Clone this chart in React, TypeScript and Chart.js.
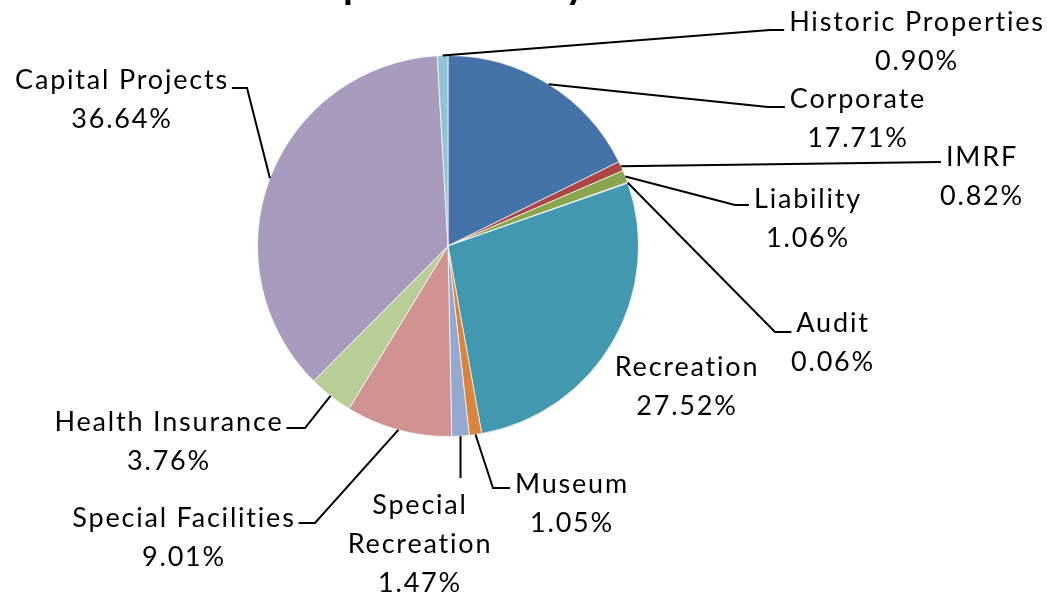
import React, { useEffect, useRef } from "react";
import { Chart, registerables } from "chart.js";

Chart.register(...registerables);

const categories = [
  "Corporate",
  "IMRF",
  "Liability",
  "Audit",
  "Recreation",
  "Museum",
  "Special Recreation",
  "Special Facilities",
  "Health Insurance",
  "Capital Projects",
  "Historic Properties",
];

const shares = [17.71, 0.82, 1.06, 0.06, 27.52, 1.05, 1.47, 9.01, 3.76, 36.64, 0.9];

const labelLines = [
  ["Corporate"],
  ["IMRF"],
  ["Liability"],
  ["Audit"],
  ["Recreation"],
  ["Museum"],
  ["Special", "Recreation"],
  ["Special Facilities"],
  ["Health Insurance"],
  ["Capital Projects"],
  ["Historic Properties"],
];

const colors = [
  "#4572A7",
  "#AA4643",
  "#89A54E",
  "#71588F",
  "#4198AF",
  "#DB843D",
  "#93A9CF",
  "#D19392",
  "#B9CD96",
  "#A99BBD",
  "#92C3D4",
];

const titleText = "Expenditures by Fund";

// label block placement relative to pie centre (px), and which side the leader attaches to
const labelLayout = [
  { dx: 409, dy: -147, side: "left", elbowX: 320, lineDy: 8 },
  { dx: 533, dy: -89, side: "left", elbowX: 492, lineDy: 5 },
  { dx: 359, dy: -47, side: "left", elbowX: 287, lineDy: 6 },
  { dx: 384, dy: 77, side: "left", elbowX: 327, lineDy: 9 },
  { dx: 238, dy: 121, side: "none", elbowX: 0, lineDy: 0 },
  { dx: 123, dy: 238, side: "left", elbowX: 45, lineDy: 4 },
  { dx: -29, dy: 259, side: "top", elbowX: 0, lineDy: 0 },
  { dx: -265, dy: 272, side: "right", elbowX: -133, lineDy: 5 },
  { dx: -280, dy: 176, side: "right", elbowX: -143, lineDy: 6 },
  { dx: -327, dy: -166, side: "right", elbowX: -201, lineDy: 8 },
  { dx: 468, dy: -224, side: "left", elbowX: 322, lineDy: 8 },
];

const FONT = "27px Lato, 'Open Sans', sans-serif";
const LINE_H = 39;

const labelPlugin = {
  id: "pieLabels",
  afterDraw(chart: any) {
    const ctx = chart.ctx as CanvasRenderingContext2D;
    const meta = chart.getDatasetMeta(0);
    ctx.save();
    // title (mostly above the visible area)
    ctx.font = "bold 40px Lato, 'Open Sans', sans-serif";
    ctx.fillStyle = "#000";
    ctx.textBaseline = "alphabetic";
    ctx.textAlign = "left";
    const exW = ctx.measureText("Ex").width;
    ctx.fillText(titleText, 343 - exW, -2);

    ctx.font = FONT;
    (ctx as any).letterSpacing = "1.8px";
    ctx.textBaseline = "middle";
    ctx.textAlign = "center";
    ctx.strokeStyle = "#000";
    ctx.lineWidth = 2;
    meta.data.forEach((arc: any, i: number) => {
      const lay = labelLayout[i];
      const cx = arc.x;
      const cy = arc.y;
      const r = arc.outerRadius;
      const mid = (arc.startAngle + arc.endAngle) / 2;
      const px = cx + Math.cos(mid) * r;
      const py = cy + Math.sin(mid) * r;
      const lx = cx + lay.dx;
      const ly = cy + lay.dy;
      const lines = [...labelLines[i], shares[i].toFixed(2) + "%"];
      const w = ctx.measureText(lines[0]).width;
      if (lay.side === "left" || lay.side === "right") {
        const yLine = ly + lay.lineDy;
        const endX = lay.side === "left" ? lx - w / 2 - 4 : lx + w / 2 + 4;
        const elbowX = cx + lay.elbowX;
        ctx.beginPath();
        ctx.moveTo(px, py);
        ctx.lineTo(elbowX, yLine);
        ctx.lineTo(endX, yLine);
        ctx.stroke();
      } else if (lay.side === "top") {
        ctx.beginPath();
        ctx.moveTo(px, py);
        ctx.lineTo(px, ly - 27);
        ctx.stroke();
      }
      lines.forEach((t, k) => {
        ctx.fillText(t, lx + 1, ly + k * LINE_H);
      });
    });
    ctx.restore();
  },
};

export default function App() {
  const ref = useRef<HTMLCanvasElement>(null);
  useEffect(() => {
    if (!ref.current) return;
    const chart = new Chart(ref.current, {
      type: "pie",
      data: {
        labels: categories,
        datasets: [
          {
            data: shares,
            backgroundColor: colors,
            borderColor: "rgba(255,255,255,0.7)",
            borderWidth: 1,
          },
        ],
      },
      options: {
        responsive: false,
        animation: false,
        layout: { padding: { left: 257, right: 408, top: 55, bottom: 161 } },
        plugins: {
          legend: { display: false },
          tooltip: { enabled: false },
          title: { display: false },
        },
      },
      plugins: [labelPlugin],
    });
    return () => chart.destroy();
  }, []);
  return (
    <div style={{ position: "fixed", left: 0, top: 0, width: 1047, height: 598, background: "#fff" }}>
      <canvas ref={ref} width={1047} height={598} />
    </div>
  );
}
